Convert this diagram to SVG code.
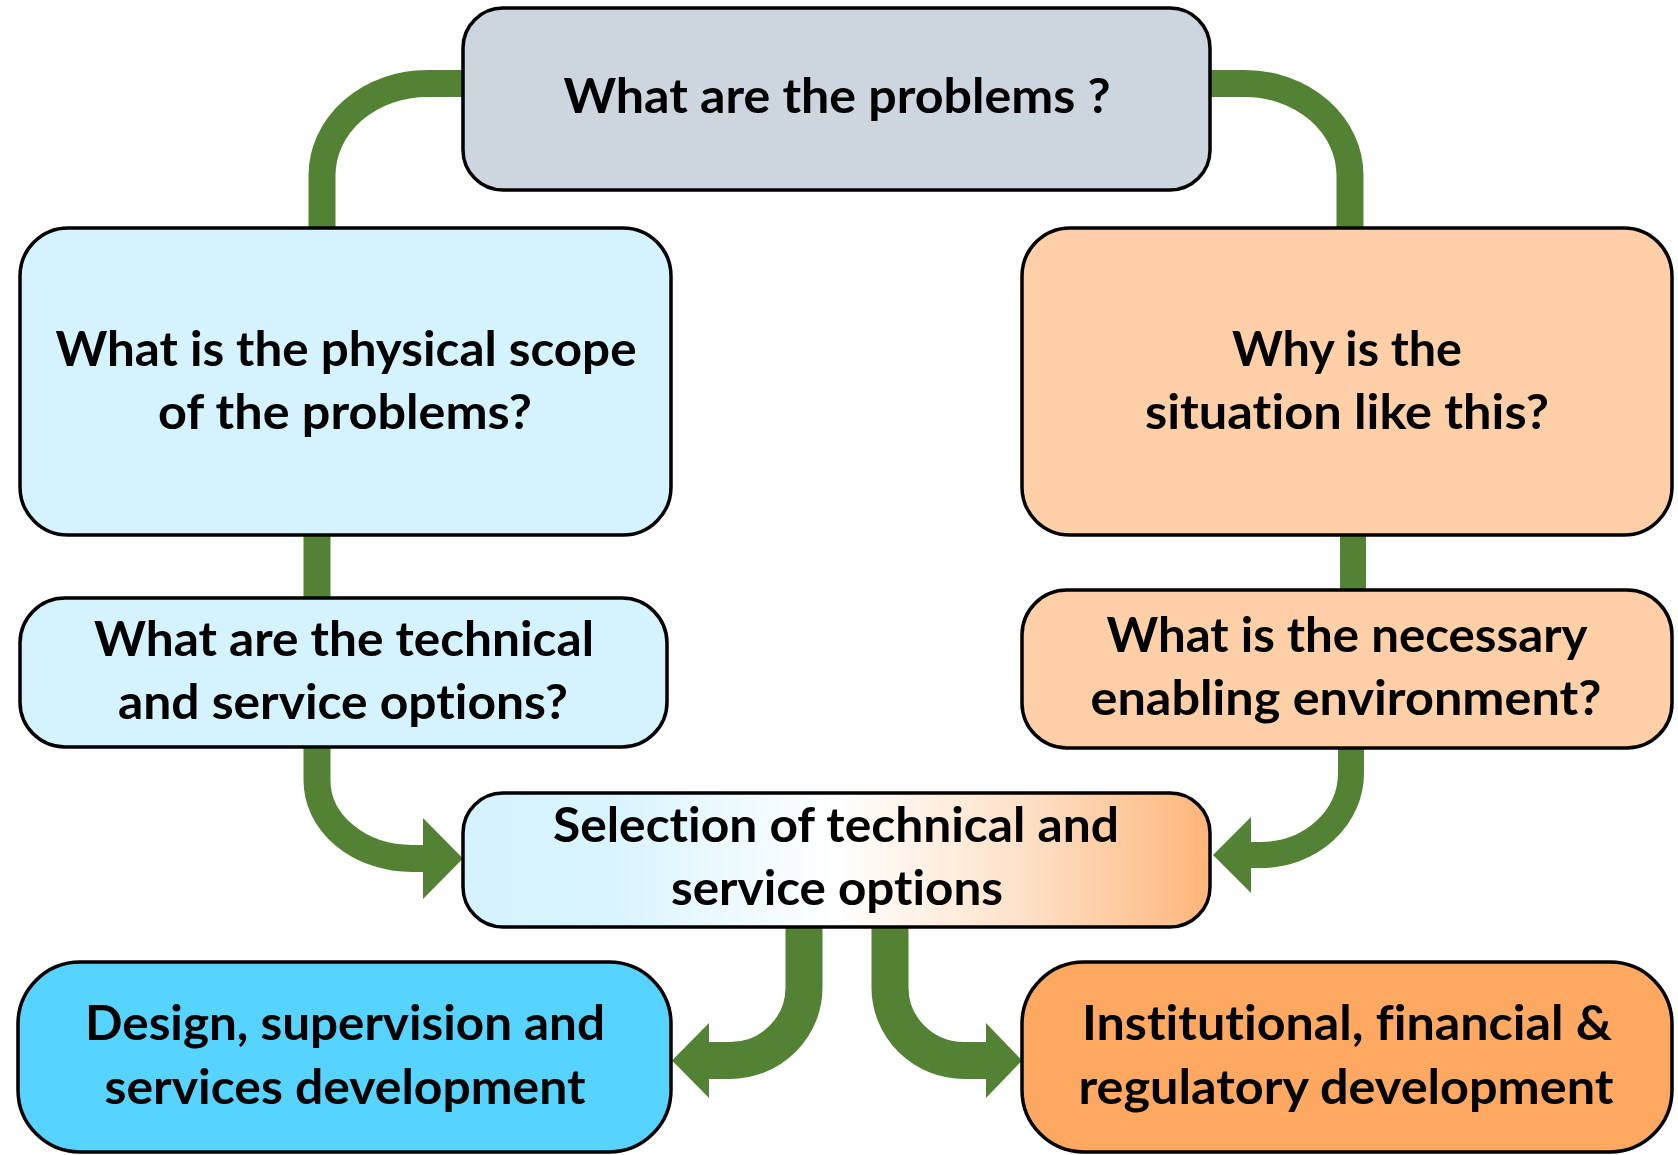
<svg xmlns="http://www.w3.org/2000/svg" width="1678" height="1155" viewBox="0 0 1678 1155">
<defs>
<linearGradient id="midGrad" x1="0" y1="0" x2="1" y2="0">
<stop offset="0" stop-color="#D5F3FF"/>
<stop offset="0.2" stop-color="#D9F4FF"/>
<stop offset="0.5" stop-color="#FFFFFF"/>
<stop offset="0.75" stop-color="#FEE1C8"/>
<stop offset="1" stop-color="#FFB57A"/>
</linearGradient>
</defs>
<style>
.box{stroke:#000;stroke-width:3.5}
.t{font-family:Lato,"Open Sans","Liberation Sans",sans-serif;font-weight:bold;font-size:48px;fill:#000;text-anchor:middle;font-variant-ligatures:none;font-feature-settings:"liga" 0,"clig" 0}
.con{fill:none;stroke:#548235}
.head{fill:#548235}
</style>
<rect width="1678" height="1155" fill="#FFFFFF"/>
<g id="connectors">
<path class="con" stroke-width="27" d="M470 83.5 H427 A105 92 0 0 0 322 175.5 V232"/>
<path class="con" stroke-width="27" d="M1203 83.5 H1245 A105 92 0 0 1 1350 175.5 V232"/>
<path class="con" stroke-width="27" d="M317 530 V602"/>
<path class="con" stroke-width="26" d="M1353 530 V594"/>
<path class="con" stroke-width="27" d="M317 742 V780 A95 78 0 0 0 412 858.5 H426"/>
<polygon class="head" points="423,818 463,858.5 423,899"/>
<path class="con" stroke-width="26" d="M1351 742 V773 A90 82 0 0 1 1261 855 H1248"/>
<polygon class="head" points="1251,817 1213,855 1251,893"/>
<path class="con" stroke-width="37" d="M804 922 V987 A74 73 0 0 1 730 1060.5 H706"/>
<polygon class="head" points="709,1023 672,1060.5 709,1098"/>
<path class="con" stroke-width="37" d="M890 922 V987 A74 73 0 0 0 964 1060.5 H989"/>
<polygon class="head" points="986,1023 1022,1060.5 986,1098"/>
</g>
<g id="node-problems">
<rect class="box" x="463" y="8" width="747" height="182" rx="40" fill="#CDD5DF"/>
<text class="t" x="837" y="113" textLength="547" lengthAdjust="spacingAndGlyphs">What are the problems ?</text>
</g>
<g id="node-physical-scope">
<rect class="box" x="20" y="228" width="651" height="307" rx="48" fill="#D5F3FF"/>
<text class="t" x="346" y="366" textLength="581" lengthAdjust="spacingAndGlyphs">What is the physical scope</text>
<text class="t" x="345" y="429" textLength="374" lengthAdjust="spacingAndGlyphs">of the problems?</text>
</g>
<g id="node-why">
<rect class="box" x="1022" y="228" width="650" height="307" rx="48" fill="#FFCFA8"/>
<text class="t" x="1347" y="366" textLength="230" lengthAdjust="spacingAndGlyphs">Why is the</text>
<text class="t" x="1347" y="429" textLength="404" lengthAdjust="spacingAndGlyphs">situation like this?</text>
</g>
<g id="node-technical-options">
<rect class="box" x="20" y="598" width="647" height="149" rx="45" fill="#D5F3FF"/>
<text class="t" x="344" y="656" textLength="500" lengthAdjust="spacingAndGlyphs">What are the technical</text>
<text class="t" x="343" y="719" textLength="450" lengthAdjust="spacingAndGlyphs">and service options?</text>
</g>
<g id="node-enabling">
<rect class="box" x="1022" y="590" width="650" height="158" rx="45" fill="#FFCFA8"/>
<text class="t" x="1347" y="652" textLength="481" lengthAdjust="spacingAndGlyphs">What is the necessary</text>
<text class="t" x="1346" y="715" textLength="511" lengthAdjust="spacingAndGlyphs">enabling environment?</text>
</g>
<g id="node-selection">
<rect class="box" x="463" y="793" width="747" height="134" rx="40" fill="url(#midGrad)"/>
<text class="t" x="836" y="842" textLength="566" lengthAdjust="spacingAndGlyphs">Selection of technical and</text>
<text class="t" x="837" y="905" textLength="332" lengthAdjust="spacingAndGlyphs">service options</text>
</g>
<g id="node-design">
<rect class="box" x="18" y="962" width="653" height="190" rx="62" fill="#57D3FF"/>
<text class="t" x="345" y="1040" textLength="520" lengthAdjust="spacingAndGlyphs">Design, supervision and</text>
<text class="t" x="345" y="1104" textLength="481" lengthAdjust="spacingAndGlyphs">services development</text>
</g>
<g id="node-institutional">
<rect class="box" x="1022" y="962" width="650" height="190" rx="62" fill="#FFA862"/>
<text class="t" x="1347" y="1040" textLength="530" lengthAdjust="spacingAndGlyphs">Institutional, financial &amp;</text>
<text class="t" x="1346" y="1104" textLength="535" lengthAdjust="spacingAndGlyphs">regulatory development</text>
</g>
</svg>
